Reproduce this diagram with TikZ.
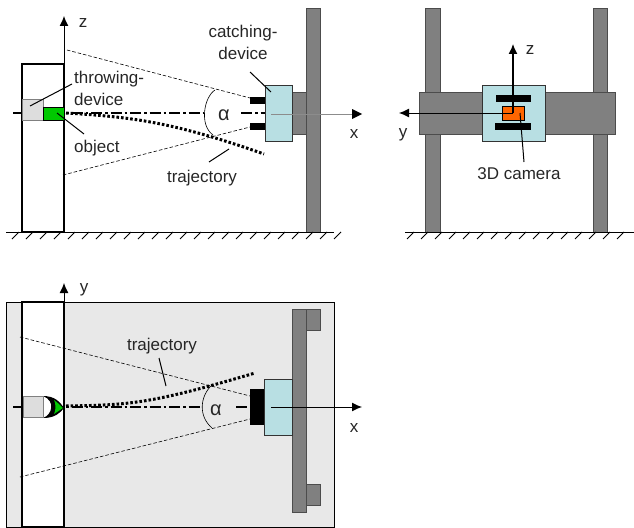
\documentclass[tikz,border=0pt]{standalone}
\usepackage{fontspec}
\setmainfont{Liberation Sans}
\usetikzlibrary{arrows.meta}
\definecolor{wallgray}{RGB}{128,128,128}
\definecolor{basegray}{RGB}{232,232,232}
\definecolor{devgray}{RGB}{221,221,221}
\definecolor{catchblue}{RGB}{184,223,227}
\definecolor{objgreen}{RGB}{0,200,0}
\definecolor{camorange}{RGB}{255,102,0}
\tikzset{
  wall/.style={draw=black!70,fill=wallgray,line width=0.9pt},
  catcher/.style={draw=black!80,fill=catchblue,line width=0.9pt},
  frame/.style={draw=black,line width=1.3pt},
  axis/.style={draw=black,line width=1pt,-{Latex[length=10pt,width=9pt]}},
  leader/.style={draw=black,line width=1pt},
  fov/.style={draw=black,line width=0.6pt,dash pattern=on 3.5pt off 2pt},
  centerline/.style={draw=black,line width=1.2pt,dash pattern=on 11pt off 3pt on 2.5pt off 3pt},
  path/.style={draw=black,line width=3pt,dash pattern=on 2.6pt off 2pt},
  lbl/.style={font=\fontsize{17}{19}\selectfont,text=black!85,inner sep=0pt,align=center},
  anglelbl/.style={font=\fontsize{20}{22}\selectfont,text=black!85,inner sep=0pt}
}
\begin{document}
\begin{tikzpicture}[x=1pt,y=-1pt]
\useasboundingbox (0,0) rectangle (634,527);

% Side view
\draw[wall] (306,8) rectangle (320,232);
\draw[wall] (292,92) rectangle (306,134);
\fill[black] (250,97) rectangle (265,104);
\fill[black] (250,123) rectangle (265,130);
\draw[catcher] (265,85) rectangle (292,141);
\draw[centerline] (13,113) -- (203,113);
\draw[centerline] (241,113) -- (265,113);
\draw[frame] (22,64) rectangle (64,232);
\draw[draw=black!50,fill=devgray,line width=0.8pt] (22,99) rectangle (43,120);
\draw[draw=black,fill=objgreen,line width=0.9pt] (43,107) rectangle (64,120);
\draw[fov] (67,50) -- (250,98);
\draw[fov] (63,175) -- (250,127);
\draw[line width=0.6pt] (215,90) .. controls (204,97) and (199,125) .. (213,135);
\draw[path] (66,113) .. controls (130,117) and (170,121) .. (264,154);
\draw[axis] (64,232) -- (64,16);
\draw[draw=black!45,line width=1pt] (271,114) -- (355,114);
\draw[draw=none,fill=black] (362,114) -- (352,109) -- (352,119) -- cycle;
\draw[draw=black,line width=1pt] (6,232) -- (334,232);
\foreach \hx in {12,26,...,334}
  \draw[line width=1pt] (\hx+7,232) -- (\hx,239);

\node[lbl] (zside) at (83,23) {z};
\node[lbl] (xside) at (354,134) {x};
\node[anglelbl] (alphaside) at (224,115) {α};
\node[lbl,anchor=west] (throwlabel) at (74,79) {throwing-};
\node[lbl,anchor=west] (throwlabelb) at (74,99) {device};
\node[lbl,anchor=west] (objectlabel) at (74,148) {object};
\node[lbl] (catchlabel) at (243,33) {catching-};
\node[lbl] (catchlabelb) at (243,53) {device};
\node[lbl] (trajside) at (202,178) {trajectory};

\coordinate (throwend) at (30,106);
\coordinate (throwstart) at (72,84);
\coordinate (objend) at (57,113);
\coordinate (objstart) at (84,134);
\coordinate (catchend) at (271,92);
\coordinate (catchstart) at (250,72);
\coordinate (trajend) at (229,149);
\coordinate (trajstart) at (209,162);
\draw[leader] (throwstart) -- (throwend);
\draw[leader] (objstart) -- (objend);
\draw[leader] (catchstart) -- (catchend);
\draw[leader] (trajstart) -- (trajend);

% Front view
\draw[wall] (425,8) rectangle (440,232);
\draw[wall] (593,8) rectangle (607,232);
\draw[wall] (419,92) rectangle (615,134);
\draw[catcher] (482,85) rectangle (545,141);
\fill[black] (496,95) rectangle (531,102);
\fill[black] (495,123) rectangle (531,130);
\draw[draw=black,fill=camorange,line width=0.8pt] (502,106) rectangle (524,120);
\draw[axis,line width=1.3pt] (513,113) -- (513,44);
\draw[axis] (513,113) -- (399,113);
\draw[draw=black,line width=1pt] (405,232) -- (634,232);
\foreach \hx in {407,421,...,630}
  \draw[line width=1pt] (\hx+7,232) -- (\hx,239);

\node[lbl] (zfront) at (530,50) {z};
\node[lbl] (yfront) at (403,135) {y};
\node[lbl] (camlabel) at (519,174) {3D camera};
\coordinate (camend) at (520,113);
\coordinate (camstart) at (524,162);
\draw[leader] (camstart) -- (camend);

% Top view
\draw[draw=black,fill=basegray,line width=0.9pt] (6,302) rectangle (334,527);
\draw[frame,fill=white] (22,302) rectangle (64,527);
\draw[wall] (306,309) rectangle (320,330);
\draw[wall] (306,484) rectangle (320,505);
\draw[wall] (292,309) rectangle (306,512);
\fill[black] (250,389) rectangle (264,425);
\draw[catcher] (264,379) rectangle (292,435);
\draw[centerline] (13,407) -- (202,407);
\draw[centerline] (236,407) -- (250,407);
\fill[white] (43,397) rectangle (58,417);
\fill[black] (43,396) .. controls (55,396) and (60,402) .. (64,408) .. controls (60,413) and (55,418) .. (43,418) .. controls (52,415) and (56,401) .. (43,396);
\fill[objgreen] (54,400) .. controls (57,402) and (60,405) .. (63,408) .. controls (60,410) and (57,412) .. (54,414) .. controls (56,410) and (56,404) .. (54,400);
\draw[draw=black!50,fill=devgray,line width=0.8pt] (23,396) rectangle (43,417);
\draw[fov] (20,337) -- (250,396);
\draw[fov] (20,477) -- (250,419);
\draw[line width=0.6pt] (212,385) .. controls (200,396) and (198,416) .. (212,428);
\draw[path] (66,406) .. controls (130,405) and (150,404) .. (255,373);
\draw[axis] (64,379) -- (64,283);
\draw[axis] (271,407) -- (362,407);

\node[lbl] (ytop) at (84,290) {y};
\node[lbl] (xtop) at (354,428) {x};
\node[anglelbl] (alphatop) at (216,410) {α};
\node[lbl] (trajtop) at (162,346) {trajectory};
\coordinate (trajtopstart) at (159,358);
\coordinate (trajtopend) at (166,386);
\draw[leader] (trajtopstart) -- (trajtopend);
\end{tikzpicture}
\end{document}
